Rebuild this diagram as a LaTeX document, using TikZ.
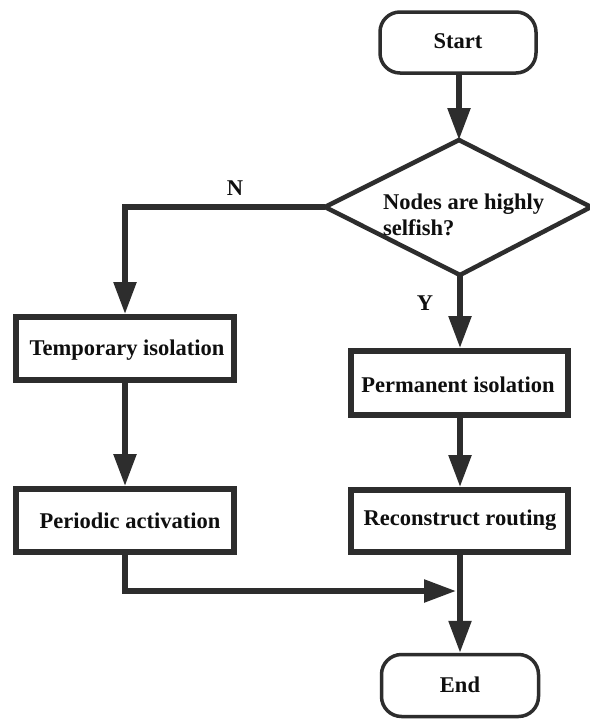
\documentclass[tikz,border=0pt]{standalone}
\usepackage{fontspec}
\setmainfont{Liberation Serif}
\usetikzlibrary{arrows.meta}
\definecolor{ink}{RGB}{45,45,45}
\definecolor{txt}{RGB}{15,15,15}
\begin{document}
\begin{tikzpicture}[x=1pt,y=-1pt,
  every node/.style={font=\fontsize{22.5}{26}\selectfont\bfseries, text=txt},
  procbox/.style={draw=ink, line width=6pt, minimum width=218pt, minimum height=63pt, inner sep=0pt},
  termbox/.style={draw=ink, line width=3.5pt, rounded corners=20pt, minimum width=156pt, minimum height=61pt, inner sep=0pt},
  conn/.style={draw=ink, line width=5.5pt},
  arr/.style={conn, -{Triangle[length=32pt,width=22pt]}},
  lbl/.style={inner sep=0pt}
]
\useasboundingbox (0,0) rectangle (589,720);
\fill[white] (0,0) rectangle (589,720);

% terminals
\node[termbox] (start) at (458,42.5) {};
\node[lbl] at (458,41) {Start};
\node[termbox, minimum width=157pt, minimum height=62pt] (end) at (460,685.5) {};
\node[lbl] at (460,685) {End};

% decision
\coordinate (dt) at (459,140);
\coordinate (dl) at (325,207);
\coordinate (dr) at (591,207);
\coordinate (db) at (460,275);
\draw[draw=ink, line width=4.5pt, line join=miter] (dt) -- (dr) -- (db) -- (dl) -- cycle;
\node[lbl, anchor=base west] (q1) at (383,209) {Nodes are highly};
\node[lbl, anchor=base west] (q2) at (383,235) {selfish?};

% process boxes
\node[procbox] (temp) at (125,348.5) {};
\node[lbl] at (127,350) {Temporary isolation};
\node[procbox, minimum width=217pt, minimum height=64pt] (perm) at (459.5,383) {};
\node[lbl] at (458,385) {Permanent isolation};
\node[procbox] (per) at (125,520.5) {};
\node[lbl] at (130,521) {Periodic activation};
\node[procbox, minimum width=217pt, minimum height=62pt] (rec) at (459.5,521) {};
\node[lbl] at (460,520) {Reconstruct routing};

% labels
\node[lbl] (nlab) at (235,188) {N};
\node[lbl] (ylab) at (425,303) {Y};

% connectors
\draw[arr] (start.south -| dt) -- (dt);
\draw[arr] (db) -- (perm.north -| db);
\draw[arr] (dl) -| (temp.north);
\draw[arr] (temp.south) -- (per.north);
\draw[arr] (perm.south -| db) -- (rec.north -| db);
\coordinate (mergept) at (456,591);
\draw[arr] (per.south) |- (mergept);
\draw[arr] (rec.south -| db) -- (end.north -| db);
\end{tikzpicture}
\end{document}
